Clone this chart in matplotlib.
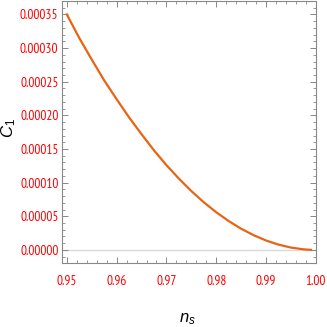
import numpy as np
import matplotlib
matplotlib.use("Agg")
import matplotlib.pyplot as plt
from matplotlib.ticker import MultipleLocator, FormatStrFormatter

# Valores
ns = [0.950, 0.9525, 0.955, 0.9575, 0.960, 0.9625, 0.965, 0.9675, 0.970, 0.9725,
      0.975, 0.9775, 0.980, 0.9825, 0.985, 0.9875, 0.990, 0.9925, 0.995, 0.9975, 0.999]
c1 = [0.000350, 0.000315, 0.000283, 0.000252, 0.000224, 0.000197, 0.000172, 0.000148,
      0.000126, 0.000106, 0.0000875, 0.0000708, 0.0000560, 0.0000429, 0.0000315,
      0.0000219, 0.0000140, 0.0000079, 0.0000035, 0.0000009, 0.0000001]

plt.rcParams['font.family'] = ['PT Sans Narrow', 'DejaVu Sans']
plt.rcParams['mathtext.fontset'] = 'custom'
plt.rcParams['mathtext.it'] = 'Liberation Sans:italic'
plt.rcParams['mathtext.rm'] = 'Liberation Sans'

fig = plt.figure(figsize=(3.27, 3.27), dpi=100)
ax = fig.add_axes([0.19, 0.197, 0.776, 0.8])

ax.axhline(0, color='#d9d9d9', lw=1.0, zorder=1)
ax.plot(ns, c1, color='#e86414', lw=1.6, zorder=2)

ax.set_xlim(0.94906, 1.0)
ax.set_ylim(-0.0000188, 0.000370)

ax.xaxis.set_major_locator(MultipleLocator(0.01))
ax.xaxis.set_minor_locator(MultipleLocator(0.002))
ax.yaxis.set_major_locator(MultipleLocator(0.00005))
ax.yaxis.set_minor_locator(MultipleLocator(0.00001))
ax.xaxis.set_major_formatter(FormatStrFormatter('%.2f'))
ax.yaxis.set_major_formatter(FormatStrFormatter('%.5f'))

for s in ax.spines.values():
    s.set_color('#888888')
    s.set_linewidth(0.8)
ax.tick_params(which='both', direction='in', top=True, right=True,
               color='#888888', labelcolor='red', labelsize=9.6)
ax.tick_params(which='major', length=4, width=0.7)
ax.tick_params(which='minor', length=2.2, width=0.6)
ax.tick_params(axis='x', pad=9)
ax.tick_params(axis='y', pad=2.7)

ax.set_xlabel(r'$n_s$', fontsize=12, va='center')
ax.set_ylabel(r'$C_1$', fontsize=12, va='center')
ax.xaxis.set_label_coords(0.495, -0.214)
ax.yaxis.set_label_coords(-0.212, 0.515)

fig.savefig('out.png', dpi=100)
